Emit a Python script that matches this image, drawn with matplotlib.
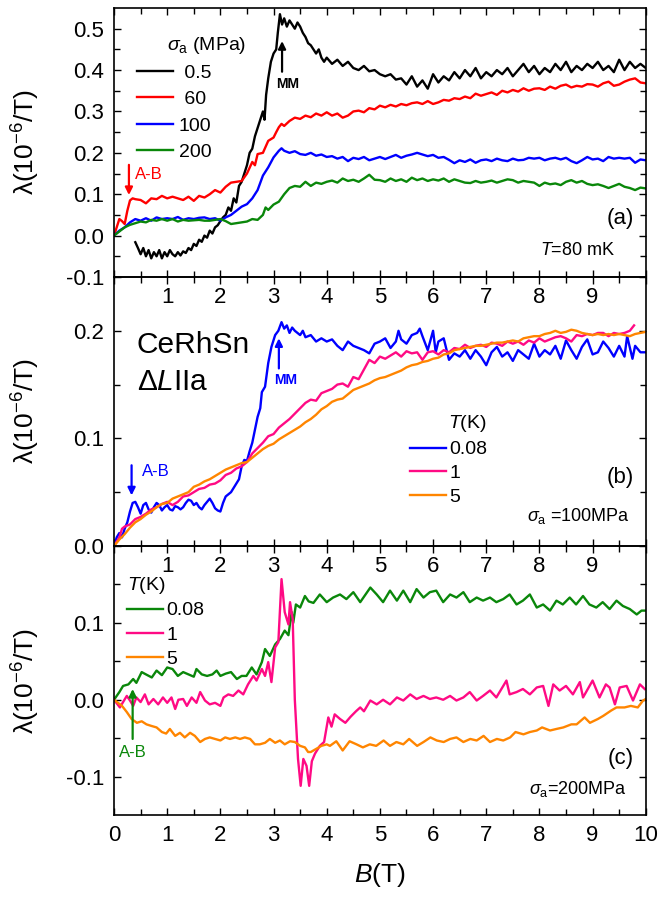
import matplotlib
matplotlib.use("Agg")
import matplotlib.pyplot as plt
from matplotlib.ticker import FixedLocator, MultipleLocator

plt.rcParams["font.family"] = ["Liberation Sans", "DejaVu Sans"]
plt.rcParams["mathtext.fontset"] = "custom"
plt.rcParams["mathtext.rm"] = "Liberation Sans"
plt.rcParams["mathtext.it"] = "Liberation Sans:italic"
plt.rcParams["mathtext.bf"] = "Liberation Sans:bold"

# ---------- panel (a): T = 80 mK, different uniaxial stress ----------
b_a05 = [0.40, 0.45, 0.50, 0.55, 0.60, 0.65, 0.70, 0.75, 0.80, 0.85, 0.90, 0.95, 1.00, 1.05, 1.10,
         1.15, 1.20, 1.25, 1.30, 1.35, 1.40, 1.45, 1.50, 1.55, 1.60, 1.65, 1.70, 1.75, 1.80, 1.85,
         1.90, 1.95, 2.00, 2.05, 2.10, 2.15, 2.20, 2.25, 2.30, 2.35, 2.40, 2.45, 2.50, 2.55, 2.60,
         2.65, 2.70, 2.75, 2.80, 2.83, 2.86, 2.90, 2.95, 3.00, 3.05, 3.08, 3.12, 3.16, 3.20, 3.25,
         3.30, 3.35, 3.40, 3.45, 3.50, 3.55, 3.60, 3.65, 3.70, 3.75, 3.80, 3.85, 3.90, 3.95, 4.00,
         4.1, 4.2, 4.3, 4.4, 4.5, 4.6, 4.7, 4.8, 4.9, 5.0, 5.1, 5.2, 5.3, 5.4, 5.5, 5.6, 5.7, 5.8,
         5.9, 6.0, 6.1, 6.2, 6.3, 6.4, 6.5, 6.6, 6.7, 6.8, 6.9, 7.0, 7.1, 7.2, 7.3, 7.4, 7.5, 7.6,
         7.7, 7.8, 7.9, 8.0, 8.1, 8.2, 8.3, 8.4, 8.5, 8.6, 8.7, 8.8, 8.9, 9.0, 9.1, 9.2, 9.3, 9.4,
         9.5, 9.6, 9.7, 9.8, 9.9, 10.0]
lam_a05 = [-0.016, -0.03, -0.045, -0.03, -0.05, -0.035, -0.055, -0.04, -0.05, -0.035, -0.055, -0.04,
           -0.05, -0.035, -0.045, -0.05, -0.04, -0.048, -0.038, -0.042, -0.03, -0.035, -0.02, -0.025,
           -0.01, -0.015, 0.0, -0.005, 0.012, 0.005, 0.02, 0.025, 0.035, 0.044, 0.05, 0.068, 0.06,
           0.09, 0.08, 0.12, 0.13, 0.15, 0.17, 0.2, 0.21, 0.24, 0.26, 0.28, 0.3, 0.28, 0.34, 0.38,
           0.42, 0.44, 0.45, 0.49, 0.535, 0.51, 0.525, 0.505, 0.52, 0.51, 0.5, 0.515, 0.505, 0.49,
           0.48, 0.465, 0.46, 0.45, 0.44, 0.45, 0.43, 0.42, 0.43,
           0.415, 0.425, 0.41, 0.42, 0.405, 0.40, 0.41, 0.397, 0.40, 0.39, 0.385, 0.39, 0.377, 0.38,
           0.365, 0.385, 0.36, 0.375, 0.355, 0.39, 0.37, 0.385, 0.375, 0.395, 0.38, 0.40, 0.385,
           0.405, 0.38, 0.395, 0.385, 0.40, 0.39, 0.405, 0.385, 0.40, 0.415, 0.395, 0.41, 0.39,
           0.405, 0.395, 0.415, 0.40, 0.42, 0.395, 0.41, 0.40, 0.415, 0.405, 0.42, 0.40, 0.41,
           0.395, 0.425, 0.40, 0.42, 0.405, 0.415, 0.405]

b_a60 = [0.0, 0.05, 0.1, 0.15, 0.2, 0.25, 0.3, 0.35, 0.4, 0.5, 0.6, 0.7, 0.8, 0.9, 1.0, 1.1, 1.2,
         1.3, 1.4, 1.5, 1.6, 1.7, 1.8, 1.9, 2.0, 2.1, 2.2, 2.3, 2.4, 2.5, 2.6, 2.65, 2.7, 2.8, 2.9,
         3.0, 3.05, 3.1, 3.15, 3.2, 3.3, 3.4, 3.5, 3.6, 3.7, 3.8, 3.9, 4.0, 4.1, 4.2, 4.3, 4.4, 4.5,
         4.6, 4.7, 4.8, 4.9, 5.0, 5.1, 5.2, 5.3, 5.4, 5.5, 5.6, 5.7, 5.8, 5.9, 6.0, 6.1, 6.2, 6.3,
         6.4, 6.5, 6.6, 6.7, 6.8, 6.9, 7.0, 7.1, 7.2, 7.3, 7.4, 7.5, 7.6, 7.7, 7.8, 7.9, 8.0, 8.1,
         8.2, 8.3, 8.4, 8.5, 8.6, 8.7, 8.8, 8.9, 9.0, 9.1, 9.2, 9.3, 9.4, 9.5, 9.6, 9.7, 9.8, 9.9,
         10.0]
lam_a60 = [0.0, 0.02, 0.04, 0.035, 0.028, 0.06, 0.085, 0.09, 0.088, 0.086, 0.078, 0.09, 0.088,
           0.096, 0.09, 0.094, 0.09, 0.086, 0.094, 0.084, 0.096, 0.092, 0.1, 0.11, 0.104, 0.118,
           0.128, 0.13, 0.132, 0.15, 0.178, 0.17, 0.197, 0.2, 0.229, 0.237, 0.25, 0.262, 0.27,
           0.265, 0.277, 0.285, 0.282, 0.29, 0.286, 0.295, 0.29, 0.298, 0.29, 0.295, 0.285, 0.29,
           0.3, 0.302, 0.298, 0.308, 0.305, 0.314, 0.31, 0.316, 0.312, 0.318, 0.315, 0.32, 0.322,
           0.318, 0.325, 0.318, 0.322, 0.328, 0.326, 0.332, 0.33, 0.336, 0.332, 0.343, 0.338, 0.342,
           0.346, 0.34, 0.35, 0.346, 0.352, 0.348, 0.356, 0.35, 0.355, 0.356, 0.352, 0.36, 0.355,
           0.362, 0.365, 0.358, 0.362, 0.36, 0.366, 0.365, 0.36, 0.368, 0.372, 0.362, 0.365, 0.372,
           0.377, 0.38, 0.37, 0.368]

b_a100 = [0.0, 0.1, 0.2, 0.3, 0.4, 0.5, 0.6, 0.7, 0.8, 0.9, 1.0, 1.1, 1.2, 1.3, 1.4, 1.5, 1.6,
          1.7, 1.8, 1.9, 2.0, 2.1, 2.2, 2.3, 2.4, 2.5, 2.6, 2.7, 2.8, 2.9, 3.0, 3.1, 3.15, 3.2,
          3.3, 3.4, 3.5, 3.6, 3.7, 3.8, 3.9, 4.0, 4.1, 4.2, 4.3, 4.4, 4.5, 4.6, 4.7, 4.8, 4.9,
          5.0, 5.1, 5.2, 5.3, 5.4, 5.5, 5.6, 5.7, 5.8, 5.9, 6.0, 6.1, 6.2, 6.3, 6.4, 6.5, 6.6,
          6.7, 6.8, 6.9, 7.0, 7.1, 7.2, 7.3, 7.4, 7.5, 7.6, 7.7, 7.8, 7.9, 8.0, 8.1, 8.2, 8.3,
          8.4, 8.5, 8.6, 8.7, 8.8, 8.9, 9.0, 9.1, 9.2, 9.3, 9.4, 9.5, 9.6, 9.7, 9.8, 9.9, 10.0]
lam_a100 = [0.0, 0.012, 0.02, 0.032, 0.04, 0.036, 0.042, 0.036, 0.044, 0.04, 0.042, 0.04, 0.045,
            0.038, 0.042, 0.04, 0.043, 0.044, 0.04, 0.042, 0.036, 0.044, 0.05, 0.06, 0.07, 0.076,
            0.09, 0.11, 0.145, 0.165, 0.189, 0.205, 0.211, 0.205, 0.2, 0.204, 0.197, 0.195, 0.2,
            0.193, 0.196, 0.19, 0.192, 0.186, 0.19, 0.18, 0.188, 0.185, 0.19, 0.182, 0.186, 0.19,
            0.185, 0.19, 0.195, 0.188, 0.193, 0.196, 0.2, 0.196, 0.192, 0.195, 0.188, 0.19, 0.183,
            0.175, 0.182, 0.178, 0.184, 0.176, 0.182, 0.184, 0.18, 0.186, 0.182, 0.18, 0.186,
            0.182, 0.183, 0.188, 0.186, 0.188, 0.182, 0.186, 0.188, 0.184, 0.188, 0.18, 0.175,
            0.182, 0.19, 0.184, 0.186, 0.18, 0.19, 0.186, 0.188, 0.186, 0.188, 0.176, 0.184, 0.182]

b_a200 = [0.0, 0.1, 0.2, 0.3, 0.4, 0.5, 0.6, 0.7, 0.8, 0.9, 1.0, 1.1, 1.2, 1.3, 1.4, 1.5, 1.6,
          1.7, 1.8, 1.9, 2.0, 2.1, 2.2, 2.3, 2.4, 2.5, 2.6, 2.7, 2.8, 2.85, 2.9, 3.0, 3.1, 3.2,
          3.3, 3.4, 3.5, 3.6, 3.7, 3.8, 3.9, 4.0, 4.1, 4.2, 4.3, 4.4, 4.5, 4.6, 4.7, 4.8, 4.9,
          5.0, 5.1, 5.2, 5.3, 5.4, 5.5, 5.6, 5.7, 5.8, 5.9, 6.0, 6.1, 6.2, 6.3, 6.4, 6.5, 6.6,
          6.7, 6.8, 6.9, 7.0, 7.1, 7.2, 7.3, 7.4, 7.5, 7.6, 7.7, 7.8, 7.9, 8.0, 8.1, 8.2, 8.3,
          8.4, 8.5, 8.6, 8.7, 8.8, 8.9, 9.0, 9.1, 9.2, 9.3, 9.4, 9.5, 9.6, 9.7, 9.8, 9.9, 10.0]
lam_a200 = [0.0, 0.01, 0.02, 0.026, 0.03, 0.034, 0.032, 0.038, 0.036, 0.04, 0.036, 0.04, 0.034,
            0.038, 0.036, 0.037, 0.038, 0.036, 0.036, 0.038, 0.04, 0.035, 0.028, 0.03, 0.032,
            0.034, 0.04, 0.038, 0.05, 0.068, 0.062, 0.075, 0.082, 0.1, 0.115, 0.12, 0.118, 0.13,
            0.12, 0.128, 0.125, 0.13, 0.133, 0.128, 0.138, 0.132, 0.135, 0.13, 0.138, 0.147, 0.135,
            0.134, 0.13, 0.138, 0.132, 0.136, 0.13, 0.14, 0.134, 0.138, 0.132, 0.136, 0.133, 0.138,
            0.13, 0.136, 0.132, 0.128, 0.127, 0.132, 0.128, 0.13, 0.133, 0.128, 0.132, 0.136,
            0.134, 0.128, 0.132, 0.13, 0.128, 0.12, 0.128, 0.124, 0.126, 0.122, 0.13, 0.134, 0.128,
            0.132, 0.125, 0.122, 0.124, 0.12, 0.115, 0.12, 0.125, 0.118, 0.115, 0.11, 0.116, 0.114]

# ---------- panel (b): sigma_a = 100 MPa, different temperatures ----------
b_b008 = [0.0, 0.05, 0.1, 0.15, 0.2, 0.25, 0.3, 0.35, 0.4, 0.45, 0.5, 0.55, 0.6, 0.65, 0.7, 0.75,
          0.8, 0.85, 0.9, 0.95, 1.0, 1.05, 1.1, 1.15, 1.2, 1.25, 1.3, 1.35, 1.4, 1.45, 1.5, 1.55,
          1.6, 1.65, 1.7, 1.75, 1.8, 1.85, 1.9, 1.95, 2.0, 2.05, 2.1, 2.15, 2.2, 2.25, 2.3, 2.35,
          2.4, 2.45, 2.5, 2.55, 2.6, 2.65, 2.7, 2.75, 2.78, 2.84, 2.9, 2.96, 3.03, 3.09, 3.15,
          3.2, 3.25, 3.3, 3.35, 3.4, 3.45, 3.5, 3.55, 3.6, 3.7, 3.8, 3.9, 4.0, 4.1, 4.2, 4.3,
          4.4, 4.5, 4.6, 4.7, 4.8, 4.9, 5.0, 5.1, 5.2, 5.3, 5.35, 5.4, 5.5, 5.6, 5.7, 5.75, 5.8,
          5.9, 6.0, 6.05, 6.1, 6.2, 6.3, 6.4, 6.5, 6.6, 6.7, 6.8, 6.9, 7.0, 7.1, 7.2, 7.3, 7.4,
          7.5, 7.6, 7.7, 7.8, 7.9, 8.0, 8.1, 8.2, 8.3, 8.4, 8.5, 8.6, 8.7, 8.8, 8.9, 9.0, 9.1,
          9.2, 9.3, 9.4, 9.5, 9.6, 9.65, 9.75, 9.8, 9.9, 10.0]
lam_b008 = [0.0, 0.008, 0.012, 0.008, 0.016, 0.022, 0.032, 0.04, 0.041, 0.036, 0.03, 0.038, 0.04,
            0.034, 0.031, 0.036, 0.04, 0.038, 0.033, 0.036, 0.038, 0.034, 0.033, 0.037, 0.036,
            0.034, 0.036, 0.04, 0.043, 0.042, 0.038, 0.04, 0.036, 0.034, 0.038, 0.041, 0.044,
            0.04, 0.035, 0.033, 0.032, 0.04, 0.046, 0.048, 0.05, 0.054, 0.058, 0.062, 0.074, 0.08,
            0.079, 0.088, 0.096, 0.108, 0.12, 0.128, 0.143, 0.148, 0.17, 0.185, 0.196, 0.2, 0.208,
            0.202, 0.205, 0.198, 0.203, 0.2, 0.198, 0.196, 0.2, 0.194, 0.196, 0.19, 0.193, 0.19,
            0.192, 0.186, 0.182, 0.19, 0.186, 0.184, 0.182, 0.179, 0.188, 0.19, 0.193, 0.184, 0.19,
            0.2, 0.192, 0.188, 0.196, 0.198, 0.202, 0.195, 0.182, 0.2, 0.18, 0.19, 0.193, 0.173,
            0.179, 0.176, 0.182, 0.174, 0.182, 0.176, 0.168, 0.18, 0.185, 0.176, 0.18, 0.172,
            0.182, 0.178, 0.174, 0.188, 0.176, 0.182, 0.178, 0.186, 0.174, 0.191, 0.182, 0.174,
            0.185, 0.192, 0.178, 0.18, 0.19, 0.184, 0.176, 0.186, 0.176, 0.195, 0.174, 0.186,
            0.18, 0.18]

b_b1 = [0.0, 0.1, 0.15, 0.2, 0.3, 0.4, 0.5, 0.6, 0.7, 0.8, 0.9, 1.0, 1.1, 1.2, 1.3, 1.4, 1.5,
        1.6, 1.7, 1.8, 1.9, 2.0, 2.1, 2.2, 2.3, 2.4, 2.5, 2.6, 2.7, 2.8, 2.9, 3.0, 3.1, 3.2, 3.3,
        3.4, 3.5, 3.6, 3.7, 3.8, 3.9, 4.0, 4.1, 4.2, 4.3, 4.4, 4.5, 4.6, 4.7, 4.8, 4.9, 5.0, 5.1,
        5.2, 5.3, 5.4, 5.5, 5.6, 5.7, 5.8, 5.9, 6.0, 6.1, 6.2, 6.3, 6.4, 6.5, 6.6, 6.7, 6.8, 6.9,
        7.0, 7.1, 7.2, 7.3, 7.4, 7.5, 7.6, 7.7, 7.8, 7.9, 8.0, 8.1, 8.2, 8.3, 8.4, 8.5, 8.6, 8.7,
        8.8, 8.9, 9.0, 9.1, 9.2, 9.3, 9.4, 9.5, 9.6, 9.7, 9.78]
lam_b1 = [0.0, 0.008, 0.016, 0.018, 0.02, 0.025, 0.027, 0.03, 0.034, 0.036, 0.039, 0.041, 0.038,
          0.041, 0.046, 0.047, 0.05, 0.053, 0.054, 0.057, 0.058, 0.061, 0.066, 0.068, 0.072,
          0.074, 0.078, 0.086, 0.091, 0.096, 0.102, 0.104, 0.11, 0.114, 0.118, 0.123, 0.128,
          0.133, 0.136, 0.135, 0.142, 0.144, 0.146, 0.15, 0.151, 0.148, 0.157, 0.155, 0.164,
          0.173, 0.17, 0.176, 0.174, 0.177, 0.18, 0.176, 0.181, 0.179, 0.18, 0.173, 0.18, 0.181,
          0.178, 0.182, 0.18, 0.184, 0.183, 0.187, 0.184, 0.186, 0.187, 0.185, 0.189, 0.188,
          0.186, 0.19, 0.188, 0.19, 0.187, 0.191, 0.189, 0.193, 0.19, 0.192, 0.194, 0.195, 0.193,
          0.19, 0.196, 0.195, 0.197, 0.196, 0.198, 0.198, 0.195, 0.198, 0.197, 0.198, 0.2, 0.205]

b_b5 = [0.0, 0.1, 0.2, 0.3, 0.4, 0.5, 0.6, 0.7, 0.8, 0.9, 1.0, 1.1, 1.2, 1.3, 1.4, 1.5, 1.6, 1.7,
        1.8, 1.9, 2.0, 2.1, 2.2, 2.3, 2.4, 2.5, 2.6, 2.7, 2.8, 2.9, 3.0, 3.1, 3.2, 3.3, 3.4, 3.5,
        3.6, 3.7, 3.8, 3.9, 4.0, 4.1, 4.2, 4.3, 4.4, 4.5, 4.6, 4.7, 4.8, 4.9, 5.0, 5.1, 5.2, 5.3,
        5.4, 5.5, 5.6, 5.7, 5.8, 5.9, 6.0, 6.1, 6.2, 6.3, 6.4, 6.5, 6.6, 6.7, 6.8, 6.9, 7.0, 7.1,
        7.2, 7.3, 7.4, 7.5, 7.6, 7.7, 7.8, 7.9, 8.0, 8.1, 8.2, 8.3, 8.4, 8.5, 8.6, 8.7, 8.8, 8.9,
        9.0, 9.1, 9.2, 9.3, 9.4, 9.5, 9.6, 9.7, 9.8, 9.9, 10.0]
lam_b5 = [0.0, 0.006, 0.011, 0.017, 0.022, 0.025, 0.029, 0.032, 0.036, 0.039, 0.04, 0.044, 0.046,
          0.048, 0.05, 0.055, 0.057, 0.06, 0.062, 0.065, 0.068, 0.071, 0.073, 0.075, 0.077, 0.078,
          0.082, 0.086, 0.09, 0.093, 0.095, 0.099, 0.102, 0.105, 0.108, 0.111, 0.115, 0.118,
          0.122, 0.127, 0.13, 0.134, 0.136, 0.137, 0.141, 0.145, 0.147, 0.149, 0.151, 0.154,
          0.156, 0.157, 0.159, 0.161, 0.163, 0.166, 0.168, 0.169, 0.171, 0.172, 0.174, 0.175,
          0.178, 0.179, 0.182, 0.183, 0.184, 0.185, 0.186, 0.186, 0.187, 0.188, 0.189, 0.189, 0.19,
          0.191, 0.19, 0.193, 0.194, 0.195, 0.195, 0.197, 0.198, 0.2, 0.198, 0.199, 0.201, 0.2,
          0.198, 0.197, 0.196, 0.197, 0.196, 0.197, 0.196, 0.197, 0.196, 0.195, 0.197, 0.198, 0.199]

# ---------- panel (c): sigma_a = 200 MPa, different temperatures ----------
b_c008 = [0.0, 0.1, 0.17, 0.27, 0.36, 0.42, 0.52, 0.6, 0.71, 0.8, 0.9, 1.0, 1.1, 1.2, 1.3, 1.4,
          1.5, 1.55, 1.65, 1.75, 1.85, 1.93, 2.0, 2.1, 2.2, 2.31, 2.4, 2.49, 2.59, 2.68, 2.78,
          2.84, 2.93, 3.03, 3.12, 3.21, 3.28, 3.34, 3.37, 3.42, 3.5, 3.59, 3.66, 3.75, 3.87, 4.0,
          4.12, 4.25, 4.37, 4.5, 4.63, 4.72, 4.82, 4.94, 5.06, 5.19, 5.32, 5.44, 5.57, 5.69, 5.82,
          5.94, 6.06, 6.19, 6.32, 6.44, 6.57, 6.69, 6.82, 6.94, 7.07, 7.19, 7.32, 7.44, 7.57, 7.69,
          7.82, 7.95, 8.07, 8.2, 8.32, 8.44, 8.57, 8.69, 8.82, 8.94, 9.07, 9.19, 9.32, 9.45, 9.57,
          9.7, 9.83, 9.92, 10.0]
lam_c008 = [0.0, 0.01, 0.018, 0.02, 0.027, 0.022, 0.036, 0.033, 0.029, 0.038, 0.032, 0.042, 0.04,
            0.031, 0.036, 0.033, 0.03, 0.04, 0.033, 0.031, 0.033, 0.038, 0.031, 0.034, 0.036,
            0.027, 0.031, 0.031, 0.042, 0.033, 0.049, 0.066, 0.057, 0.072, 0.079, 0.09, 0.084,
            0.114, 0.1, 0.124, 0.12, 0.135, 0.128, 0.126, 0.137, 0.127, 0.133, 0.137, 0.131, 0.14,
            0.127, 0.136, 0.146, 0.137, 0.127, 0.142, 0.129, 0.142, 0.127, 0.144, 0.133, 0.14,
            0.142, 0.127, 0.137, 0.133, 0.14, 0.127, 0.133, 0.129, 0.133, 0.127, 0.131, 0.137,
            0.124, 0.129, 0.137, 0.12, 0.124, 0.116, 0.129, 0.124, 0.133, 0.124, 0.135, 0.124,
            0.12, 0.127, 0.118, 0.129, 0.122, 0.118, 0.111, 0.116, 0.116]

b_c1 = [0.0, 0.11, 0.17, 0.24, 0.3, 0.36, 0.42, 0.5, 0.58, 0.65, 0.74, 0.83, 0.92, 1.0, 1.08,
        1.15, 1.21, 1.3, 1.37, 1.46, 1.55, 1.62, 1.71, 1.8, 1.9, 2.0, 2.06, 2.15, 2.24, 2.34, 2.43,
        2.52, 2.62, 2.68, 2.78, 2.84, 2.9, 2.96, 3.03, 3.09, 3.15, 3.21, 3.28, 3.31, 3.36, 3.4,
        3.46, 3.51, 3.56, 3.62, 3.67, 3.72, 3.78, 3.87, 3.95, 4.03, 4.09, 4.15, 4.25, 4.35, 4.45,
        4.55, 4.63, 4.7, 4.82, 4.94, 5.06, 5.19, 5.32, 5.44, 5.57, 5.69, 5.82, 5.94, 6.06, 6.19,
        6.32, 6.44, 6.57, 6.69, 6.82, 6.94, 7.07, 7.19, 7.32, 7.38, 7.44, 7.57, 7.69, 7.82, 7.95,
        8.07, 8.17, 8.26, 8.38, 8.5, 8.63, 8.76, 8.82, 9.0, 9.13, 9.25, 9.32, 9.42, 9.51, 9.64,
        9.76, 9.89, 9.98]
lam_c1 = [0.0, -0.01, -0.003, 0.005, -0.001, -0.008, 0.003, -0.003, 0.007, -0.006, 0.001, -0.006,
          0.003, -0.004, 0.003, -0.012, 0.0, 0.001, -0.008, 0.003, -0.004, 0.01, -0.001, -0.006,
          -0.004, -0.008, 0.003, 0.007, 0.005, 0.012, 0.007, 0.02, 0.031, 0.025, 0.04, 0.031,
          0.049, 0.023, 0.068, 0.075, 0.157, 0.114, 0.098, 0.127, 0.105, 0.0, -0.077, -0.112,
          -0.077, -0.086, -0.112, -0.08, -0.07, -0.06, -0.055, -0.023, -0.035, -0.019, -0.025,
          -0.03, -0.022, -0.015, -0.01, -0.015, -0.001, -0.006, 0.0, -0.006, 0.003, -0.001, 0.007,
          0.001, 0.005, 0.001, 0.003, 0.0, 0.005, -0.001, 0.003, 0.01, -0.001, 0.005, 0.012,
          0.003, 0.018, 0.025, 0.007, 0.01, 0.014, 0.007, 0.016, 0.018, -0.008, 0.02, 0.012,
          0.018, 0.007, 0.023, 0.003, 0.025, 0.003, 0.02, 0.016, -0.006, 0.016, 0.018, -0.001,
          0.02, 0.014]

b_c5 = [0.0, 0.15, 0.24, 0.33, 0.43, 0.52, 0.61, 0.7, 0.8, 0.9, 0.98, 1.05, 1.15, 1.24, 1.33,
        1.43, 1.52, 1.62, 1.71, 1.8, 1.9, 2.0, 2.09, 2.18, 2.28, 2.37, 2.46, 2.56, 2.65, 2.74,
        2.84, 2.93, 3.03, 3.12, 3.21, 3.31, 3.4, 3.5, 3.59, 3.65, 3.7, 3.8, 3.9, 4.0, 4.06, 4.18,
        4.3, 4.43, 4.56, 4.68, 4.81, 4.93, 5.07, 5.19, 5.31, 5.44, 5.55, 5.7, 5.82, 5.95, 6.07,
        6.2, 6.32, 6.44, 6.57, 6.7, 6.82, 6.95, 7.07, 7.2, 7.32, 7.45, 7.55, 7.7, 7.82, 7.95,
        8.05, 8.2, 8.32, 8.45, 8.6, 8.7, 8.85, 8.95, 9.1, 9.2, 9.35, 9.45, 9.6, 9.72, 9.85, 9.95,
        10.0]
lam_c5 = [0.0, -0.008, -0.016, -0.025, -0.03, -0.028, -0.032, -0.034, -0.036, -0.042, -0.044,
          -0.038, -0.047, -0.043, -0.049, -0.043, -0.047, -0.055, -0.051, -0.049, -0.051, -0.053,
          -0.049, -0.051, -0.049, -0.051, -0.049, -0.051, -0.058, -0.058, -0.056, -0.051, -0.056,
          -0.053, -0.058, -0.054, -0.055, -0.06, -0.062, -0.068, -0.068, -0.064, -0.06, -0.058,
          -0.06, -0.054, -0.066, -0.054, -0.058, -0.062, -0.058, -0.06, -0.053, -0.06, -0.055,
          -0.058, -0.051, -0.06, -0.055, -0.049, -0.053, -0.055, -0.051, -0.049, -0.055, -0.051,
          -0.053, -0.047, -0.055, -0.051, -0.053, -0.049, -0.042, -0.045, -0.042, -0.04, -0.036,
          -0.04, -0.038, -0.036, -0.032, -0.032, -0.023, -0.03, -0.025, -0.021, -0.014, -0.01,
          -0.01, -0.008, -0.01, -0.001, 0.001]

x_ticks = [0, 1, 2, 3, 4, 5, 6, 7, 8, 9, 10]

RED, BLUE, GREEN = "#ff0000", "#0000ff", "#0a870a"
PINK, ORANGE = "#ff0a84", "#ff8500"
FS = 16
LEG_FS = 14


def style_axes(ax, ylim, yticks, ylabels, yminor, xlabels):
    ax.set_xlim(0, 10)
    ax.set_ylim(*ylim)
    ax.xaxis.set_major_locator(FixedLocator(x_ticks))
    ax.xaxis.set_minor_locator(MultipleLocator(0.5))
    ax.set_xticklabels(xlabels)
    ax.yaxis.set_major_locator(FixedLocator(yticks))
    ax.set_yticklabels(ylabels)
    ax.yaxis.set_minor_locator(FixedLocator(yminor))
    ax.tick_params(which="both", direction="in", top=True, right=True, labelsize=FS, width=1.0)
    ax.tick_params(which="major", length=5)
    ax.tick_params(which="minor", length=4)
    ax.tick_params(axis="x", pad=7)
    ax.tick_params(axis="y", pad=7)
    for s in ax.spines.values():
        s.set_linewidth(1.2)
    ax.set_ylabel(r"λ(10$^{-6}$/T)", fontsize=19)
    ax.yaxis.set_label_coords(-0.135, 0.5)
    ax.patch.set_visible(False)


def arrow(ax, x, y0, y1, color):
    ax.annotate("", xy=(x, y1), xytext=(x, y0),
                arrowprops=dict(arrowstyle="-|>", color=color, lw=1.6, mutation_scale=11,
                                shrinkA=0, shrinkB=0))


def legend(ax, anchor, pad, spacing):
    ax.legend(loc="upper left", bbox_to_anchor=anchor, frameon=False, fontsize=LEG_FS,
              handlelength=1.85, handletextpad=pad, labelspacing=spacing, borderpad=0,
              borderaxespad=0)


fig = plt.figure(figsize=(6.63, 8.99), dpi=100)
L, W, H = 0.172, 0.802, 0.2992
ax_a = fig.add_axes([L, 0.6919, W, H])
ax_b = fig.add_axes([L, 0.3927, W, H])
ax_c = fig.add_axes([L, 0.0934, W, H])

inner = [""] + [str(v) for v in x_ticks[1:-1]] + [""]

# (a)
lw = 1.7
ax_a.plot(b_a05, lam_a05, color="black", lw=lw, label=" 0.5")
ax_a.plot(b_a60, lam_a60, color=RED, lw=lw, label=" 60")
ax_a.plot(b_a100, lam_a100, color=BLUE, lw=lw, label="100")
ax_a.plot(b_a200, lam_a200, color=GREEN, lw=lw, label="200")
style_axes(ax_a, (-0.1, 0.55), [-0.1, 0.0, 0.1, 0.2, 0.3, 0.4, 0.5],
           ["-0.1", "0.0", "0.1", "0.2", "0.3", "0.4", "0.5"],
           [-0.05, 0.05, 0.15, 0.25, 0.35, 0.45], inner)
legend(ax_a, (0.043, 0.792), 0.3, 0.46)
ax_a.text(0.1, 0.862, r"$\sigma_{\rm a}$ (MPa)", transform=ax_a.transAxes, fontsize=LEG_FS,
          va="center", ha="left")
ax_a.text(0.977, 0.219, "(a)", transform=ax_a.transAxes, fontsize=16, ha="right", va="center")
ax_a.text(0.942, 0.10, r"$T$=80 mK", transform=ax_a.transAxes, fontsize=13, ha="right", va="center")
arrow(ax_a, 3.16, 0.396, 0.47, "black")
ax_a.text(3.27, 0.367, "MM", fontsize=10, fontweight="bold", ha="center", va="center")
arrow(ax_a, 0.28, 0.171, 0.098, RED)
ax_a.text(0.40, 0.147, "A-B", color=RED, fontsize=12, ha="left", va="center")

# (b)
ax_b.plot(b_b008, lam_b008, color=BLUE, lw=lw, label="0.08")
ax_b.plot(b_b1, lam_b1, color=PINK, lw=lw, label="1")
ax_b.plot(b_b5, lam_b5, color=ORANGE, lw=lw, label="5")
style_axes(ax_b, (0.0, 0.25), [0.0, 0.1, 0.2], ["0.0", "0.1", "0.2"], [0.05, 0.15], inner)
legend(ax_b, (0.556, 0.391), 0.2, 0.32)
ax_b.text(0.628, 0.457, r"$T$(K)", transform=ax_b.transAxes, fontsize=LEG_FS, ha="left",
          va="center")
ax_b.text(0.977, 0.253, "(b)", transform=ax_b.transAxes, fontsize=16, ha="right", va="center")
ax_b.text(0.97, 0.112, r"$\sigma_{\rm a}$ =100MPa", transform=ax_b.transAxes, fontsize=13,
          ha="right", va="center")
ax_b.text(0.043, 0.179, "CeRhSn", fontsize=21.5, ha="left", va="baseline",
          transform=ax_b.get_yaxis_transform())
ax_b.text(0.043, 0.145, r"Δ$L$IIa", fontsize=21.5, ha="left", va="baseline",
          transform=ax_b.get_yaxis_transform())
arrow(ax_b, 3.10, 0.165, 0.193, BLUE)
ax_b.text(3.22, 0.154, "MM", color=BLUE, fontsize=10, fontweight="bold", ha="center", va="center")
arrow(ax_b, 0.33, 0.075, 0.047, BLUE)
ax_b.text(0.52, 0.069, "A-B", color=BLUE, fontsize=12, ha="left", va="center")

# (c)
ax_c.plot(b_c008, lam_c008, color=GREEN, lw=lw, label="0.08")
ax_c.plot(b_c1, lam_c1, color=PINK, lw=lw, label="1")
ax_c.plot(b_c5, lam_c5, color=ORANGE, lw=lw, label="5")
style_axes(ax_c, (-0.15, 0.2), [-0.1, 0.0, 0.1], ["-0.1", "0.0", "0.1"], [-0.05, 0.05, 0.15],
           [str(v) for v in x_ticks])
legend(ax_c, (0.024, 0.793), 0.2, 0.34)
ax_c.text(0.024, 0.855, r"$T$(K)", transform=ax_c.transAxes, fontsize=LEG_FS, ha="left",
          va="center")
ax_c.text(0.977, 0.212, "(c)", transform=ax_c.transAxes, fontsize=16, ha="right", va="center")
ax_c.text(0.964, 0.097, r"$\sigma_{\rm a}$=200MPa", transform=ax_c.transAxes, fontsize=13,
          ha="right", va="center")
arrow(ax_c, 0.35, -0.051, 0.014, GREEN)
ax_c.text(0.35, -0.069, "A-B", color=GREEN, fontsize=12, ha="center", va="center")
ax_c.set_xlabel(r"$B$(T)", fontsize=19, labelpad=11)

fig.savefig("out.png", dpi=100)
